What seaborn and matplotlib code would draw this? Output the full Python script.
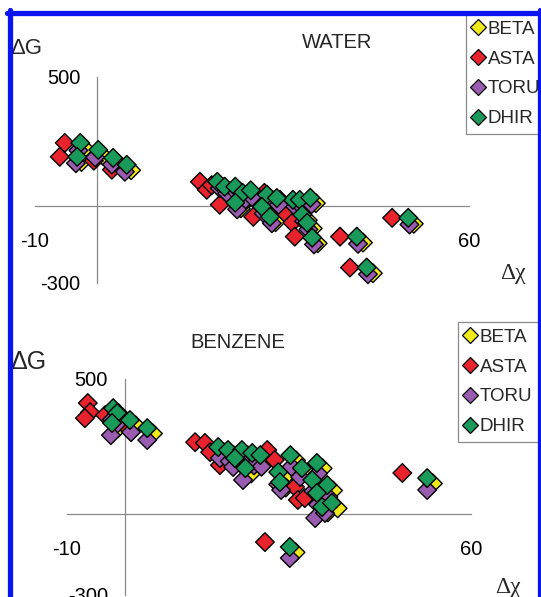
import pandas as pd
import seaborn as sns
import matplotlib.pyplot as plt
from matplotlib.lines import Line2D

series = ['BETA', 'ASTA', 'TORU', 'DHIR']
colors = ['#f0ea1a', '#e8232d', '#9a5cb0', '#1a9a5a']

# WATER panel
water_beta_x = [-2.0, -2.5, 0.9, 3.3, 5.5, 20.3, 21.5, 23.1, 24.4, 23.2, 28.3, 27.5, 28.8, 32.5, 33.6, 35.3, 34.0, 34.8, 35.6, 42.9, 44.5, 51.1, 25.6, 30.0]
water_beta_y = [222, 170, 195, 165, 138, 72, 52, 55, 28, -10, 22, -25, -64, 2, 2, 10, -56, -88, -146, -143, -262, -70, 36, 5]
water_asta_x = [-5.2, -6.0, 2.4, -0.5, 16.6, 17.7, 19.8, 25.2, 29.5, 30.6, 31.5, 31.9, 39.2, 40.8, 47.6, 18.5, 24.0, 27.0]
water_asta_y = [244, 190, 140, 175, 93, 62, 4, -43, 23, -35, -66, -120, -120, -240, -47, 80, 20, 50]
water_toru_x = [-3.0, -3.4, -0.3, 2.4, 4.5, 19.8, 21.0, 22.6, 23.9, 22.6, 27.6, 26.9, 28.2, 31.9, 33.0, 34.6, 33.4, 34.1, 35.0, 42.1, 43.7, 50.4, 25.0, 29.3]
water_toru_y = [215, 165, 188, 160, 132, 68, 48, 50, 24, -14, 18, -30, -68, -2, -2, 6, -60, -92, -150, -148, -266, -73, 34, 4]
water_dhir_x = [-2.7, -3.2, 0.2, 2.6, 4.8, 19.4, 20.6, 22.3, 23.5, 22.3, 27.4, 26.6, 27.9, 31.6, 32.7, 34.4, 33.1, 33.9, 34.7, 41.9, 43.5, 50.2, 24.8, 29.0]
water_dhir_y = [244, 190, 217, 186, 159, 93, 74, 74, 50, 12, 43, -4, -43, 23, 23, 31, -35, -66, -124, -120, -240, -47, 60, 30]

# BENZENE panel
benz_beta_x = [-1.0, -0.3, -1.2, 1.9, 4.9, 17.2, 18.9, 21.3, 23.1, 20.1, 21.9, 24.5, 29.7, 31.7, 34.3, 27.6, 27.9, 33.5, 36.1, 34.3, 35.2, 36.9, 53.4, 29.6]
benz_beta_y = [372, 354, 317, 328, 298, 228, 217, 217, 206, 187, 150, 198, 198, 150, 169, 135, 98, 106, 87, 58, 6, 21, 113, -142]
benz_asta_x = [-6.4, -6.0, -6.9, -3.4, -0.4, 12.2, 13.9, 14.8, 16.5, 18.0, 24.7, 26.0, 29.5, 30.0, 31.2, 48.1, 24.3]
benz_asta_y = [411, 377, 355, 366, 337, 266, 263, 229, 181, 220, 237, 200, 100, 52, 59, 152, -104]
benz_toru_x = [-2.2, -1.5, -2.4, 1.1, 3.9, 16.5, 18.2, 20.5, 22.4, 18.8, 20.5, 23.7, 28.9, 30.4, 33.5, 26.6, 27.1, 32.7, 35.3, 33.5, 33.0, 34.7, 52.4, 28.6]
benz_toru_y = [350, 330, 292, 303, 274, 207, 195, 190, 180, 174, 126, 175, 175, 137, 150, 110, 89, 85, 63, 35, -15, 4, 89, -163]
benz_dhir_x = [-2.0, -1.3, -2.2, 0.9, 3.9, 16.2, 17.9, 20.3, 22.1, 19.1, 20.9, 23.5, 28.7, 30.7, 33.3, 26.6, 26.9, 32.5, 35.1, 33.3, 34.2, 35.9, 52.4, 28.6]
benz_dhir_y = [392, 374, 337, 348, 318, 248, 237, 237, 226, 207, 170, 218, 218, 170, 189, 155, 118, 126, 107, 78, 26, 41, 133, -122]

x_ticks = [-10, 60]
y_ticks = [-300, 500]


def make_df(xs, ys):
    parts = []
    for name, x, y in zip(series, xs, ys):
        parts.append(pd.DataFrame({'dx': x, 'dg': y, 'method': name}))
    return pd.concat(parts, ignore_index=True)


water = make_df([water_beta_x, water_asta_x, water_toru_x, water_dhir_x],
                [water_beta_y, water_asta_y, water_toru_y, water_dhir_y])
benzene = make_df([benz_beta_x, benz_asta_x, benz_toru_x, benz_dhir_x],
                  [benz_beta_y, benz_asta_y, benz_toru_y, benz_dhir_y])

sns.set_theme(style='white')
plt.rcParams['font.family'] = ['Liberation Sans', 'DejaVu Sans']
plt.rcParams['axes.unicode_minus'] = False

W, H = 541, 597
fig = plt.figure(figsize=(W / 100, H / 100), dpi=100)
ax1 = fig.add_axes([35 / W, (H - 283) / H, 434 / W, 206 / H])
ax2 = fig.add_axes([67 / W, (H - 595) / H, 404 / W, 216 / H])

palette = dict(zip(series, colors))
for ax, df in [(ax1, water), (ax2, benzene)]:
    sns.scatterplot(data=df, x='dx', y='dg', hue='method', palette=palette,
                    marker='D', s=90, edgecolor='black', linewidth=1.0,
                    legend=False, ax=ax, clip_on=False, zorder=3)
    ax.set_xlim(-10, 60)
    ax.set_ylim(-300, 500)
    ax.set_facecolor('none')
    for side in ['top', 'right']:
        ax.spines[side].set_visible(False)
    ax.spines['left'].set_position(('data', 0))
    ax.spines['bottom'].set_position(('data', 0))
    for side in ['left', 'bottom']:
        ax.spines[side].set_color('#8a8a8a')
        ax.spines[side].set_linewidth(0.9)
    ax.set_xticks(x_ticks)
    ax.set_yticks(y_ticks)
    ax.tick_params(axis='both', colors='#8a8a8a', length=5, width=0.9,
                   labelcolor='black', labelsize=14.5)
    ax.tick_params(axis='x', pad=14)
    ax.tick_params(axis='y', pad=7)
    ax.set_xlabel('')
    ax.set_ylabel('')

handles = [Line2D([], [], marker='D', linestyle='', markersize=8,
                  markerfacecolor=c, markeredgecolor='black', markeredgewidth=0.9)
           for c in colors]
for ax, top in [(ax1, 14), (ax2, 322)]:
    left = 466 if ax is ax1 else 458
    leg = ax.legend(handles, series, loc='upper left',
                    bbox_to_anchor=(left / W, 1 - top / H),
                    bbox_transform=fig.transFigure, fontsize=13.5,
                    frameon=True, fancybox=False, framealpha=1,
                    edgecolor='#8a8a8a', handlelength=0.6, handletextpad=0.2,
                    labelspacing=0.68, borderpad=0.35, borderaxespad=0)
    leg.get_frame().set_linewidth(0.9)

fig.text(302 / W, 1 - 43 / H, 'WATER', fontsize=14.5, va='center', ha='left')
fig.text(190 / W, 1 - 343 / H, 'BENZENE', fontsize=14.5, va='center', ha='left')
fig.text(10 / W, 1 - 48 / H, 'ΔG', fontsize=16, va='center', ha='left')
fig.text(10 / W, 1 - 362 / H, 'ΔG', fontsize=18, va='center', ha='left')
fig.text(500 / W, 1 - 273 / H, 'Δχ', fontsize=17, va='center', ha='left',
         family=['Liberation Serif', 'DejaVu Serif'])
fig.text(495 / W, 1 - 588 / H, 'Δχ', fontsize=17, va='center', ha='left',
         family=['Liberation Serif', 'DejaVu Serif'])

# blue frame around the figure
blue = '#0a14f0'
fig.add_artist(Line2D([7 / W, 1], [1 - 12.5 / H, 1 - 12.5 / H], color=blue, lw=3.8,
                      transform=fig.transFigure, zorder=10))
fig.add_artist(Line2D([9.5 / W, 9.5 / W], [0, 1 - 10 / H], color=blue, lw=3.8,
                      transform=fig.transFigure, zorder=10))
fig.add_artist(Line2D([539.5 / W, 539.5 / W], [0, 1 - 10 / H], color=blue, lw=3.8,
                      transform=fig.transFigure, zorder=10))

fig.savefig('out.png', dpi=100)
